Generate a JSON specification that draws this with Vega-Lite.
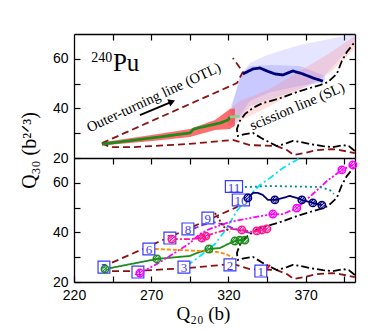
{
"$schema":"https://vega.github.io/schema/vega-lite/v6.json",
"autosize":{"type":"pad"},
"padding":{"left":19,"top":33,"right":5,"bottom":5},
"background":"white",
"spacing":0,
"bounds":"flush",
"config":{
 "view":{"stroke":null},
 "axis":{"grid":false,"domainColor":"#000","domainWidth":1.3,"tickColor":"#000","tickWidth":1.2,"tickSize":-6,"labelFont":"Liberation Sans","labelFontSize":14,"labelColor":"#000","labelPadding":12,"labelFlush":false,"labelOverlap":false,"titleFont":"Liberation Serif","titleFontWeight":"normal","titleColor":"#000","titleFontSize":20}
},
"datasets":{
 "frame":[
  {"s":"otlU","i":0,"x":238.1,"y":26.0},{"s":"otlU","i":1,"x":325.5,"y":50.2},{"s":"otlU","i":2,"x":329.4,"y":54.7},{"s":"otlU","i":3,"x":322.9,"y":60.3},
  {"s":"otlL","i":0,"x":238.1,"y":26.0},{"s":"otlL","i":1,"x":243.3,"y":24.4},{"s":"otlL","i":2,"x":258.2,"y":24.4},{"s":"otlL","i":3,"x":293.1,"y":25.6},{"s":"otlL","i":4,"x":322.9,"y":27.3},{"s":"otlL","i":5,"x":333.9,"y":25.2},{"s":"otlL","i":6,"x":351.4,"y":24.8},{"s":"otlL","i":7,"x":357.9,"y":23.2},{"s":"otlL","i":8,"x":362.4,"y":21.2},{"s":"otlL","i":9,"x":369.5,"y":22.0},{"s":"otlL","i":10,"x":377.3,"y":23.2},{"s":"otlL","i":11,"x":387.0,"y":23.6},{"s":"otlL","i":12,"x":392.2,"y":23.2},{"s":"otlL","i":13,"x":401.9,"y":22.0},
  {"s":"sl","i":0,"x":401.9,"y":22.8},{"s":"sl","i":1,"x":398.0,"y":24.8},{"s":"sl","i":2,"x":394.1,"y":25.2},{"s":"sl","i":3,"x":387.6,"y":24.4},{"s":"sl","i":4,"x":381.2,"y":24.8},{"s":"sl","i":5,"x":372.7,"y":25.6},{"s":"sl","i":6,"x":366.3,"y":26.5},{"s":"sl","i":7,"x":361.7,"y":26.9},{"s":"sl","i":8,"x":357.9,"y":26.0},{"s":"sl","i":9,"x":351.4,"y":24.8},{"s":"sl","i":10,"x":342.3,"y":27.7},{"s":"sl","i":11,"x":335.9,"y":30.1},{"s":"sl","i":12,"x":330.0,"y":29.5},{"s":"sl","i":13,"x":326.1,"y":28.9},{"s":"sl","i":14,"x":325.5,"y":31.7},{"s":"sl","i":15,"x":327.4,"y":34.9},{"s":"sl","i":16,"x":330.7,"y":37.7},{"s":"sl","i":17,"x":335.9,"y":40.2},{"s":"sl","i":18,"x":342.3,"y":42.2},{"s":"sl","i":19,"x":352.0,"y":43.8},{"s":"sl","i":20,"x":366.3,"y":47.0},{"s":"sl","i":21,"x":379.2,"y":49.4},{"s":"sl","i":22,"x":384.4,"y":50.6},{"s":"sl","i":23,"x":390.2,"y":53.9},{"s":"sl","i":24,"x":393.5,"y":59.1},{"s":"sl","i":25,"x":396.7,"y":62.7},{"s":"sl","i":26,"x":401.9,"y":66.8}
 ],
 "topl":[
  {"s":"green","i":0,"x":238.1,"y":25.6},{"s":"green","i":1,"x":269.2,"y":28.0},{"s":"green","i":2,"x":295.1,"y":30.1},{"s":"green","i":3,"x":297.6,"y":31.7},{"s":"green","i":4,"x":314.5,"y":34.1},{"s":"green","i":5,"x":319.7,"y":35.3},{"s":"green","i":6,"x":321.0,"y":36.5},
  {"s":"greenP","i":0,"x":321.0,"y":36.5},{"s":"greenP","i":1,"x":327.4,"y":36.9},
  {"s":"navy","i":0,"x":329.4,"y":53.9},{"s":"navy","i":1,"x":335.9,"y":55.9},{"s":"navy","i":2,"x":340.4,"y":56.3},{"s":"navy","i":3,"x":344.9,"y":55.1},{"s":"navy","i":4,"x":350.1,"y":53.9},{"s":"navy","i":5,"x":355.3,"y":53.5},{"s":"navy","i":6,"x":361.7,"y":55.1},{"s":"navy","i":7,"x":368.2,"y":53.9},{"s":"navy","i":8,"x":374.7,"y":52.3},{"s":"navy","i":9,"x":381.2,"y":51.0}
 ],
 "bBL":[{"x":319.7,"y":38.1,"y2":32.9},{"x":324.2,"y":45.0,"y2":32.9},{"x":328.7,"y":54.3,"y2":36.9},{"x":333.9,"y":58.3,"y2":41.0},{"x":343.6,"y":61.1,"y2":43.0},{"x":353.3,"y":63.1,"y2":45.0},{"x":366.3,"y":65.6,"y2":47.8},{"x":379.2,"y":67.2,"y2":51.0},{"x":392.2,"y":68.8,"y2":60.0},{"x":401.9,"y":70.0,"y2":67.0}],
 "bBI":[{"x":322.3,"y":41.0,"y2":34.1},{"x":327.4,"y":53.1,"y2":37.0},{"x":333.9,"y":57.1,"y2":43.0},{"x":346.9,"y":57.5,"y2":46.5},{"x":366.3,"y":57.1,"y2":49.0},{"x":382.5,"y":53.1,"y2":50.5}],
 "bRP":[{"x":321.0,"y":39.8,"y2":33.0},{"x":327.4,"y":43.0,"y2":34.9},{"x":346.9,"y":47.8,"y2":41.0},{"x":366.3,"y":55.1,"y2":47.5},{"x":385.7,"y":62.3,"y2":54.3},{"x":401.9,"y":69.2,"y2":64.0}],
 "bR":[{"x":238.1,"y":26.4,"y2":25.0},{"x":269.2,"y":29.2,"y2":26.8},{"x":295.1,"y":31.7,"y2":28.5},{"x":311.3,"y":35.3,"y2":31.3},{"x":321.0,"y":39.8,"y2":31.7},{"x":324.2,"y":40.0,"y2":33.0}],
 "botl":[
  {"s":"green","i":0,"x":240.1,"y":25.2},{"s":"green","i":1,"x":273.7,"y":29.3},{"s":"green","i":2,"x":295.1,"y":30.5},{"s":"green","i":3,"x":299.6,"y":31.7},{"s":"green","i":4,"x":307.4,"y":33.3},{"s":"green","i":5,"x":314.5,"y":33.7},{"s":"green","i":6,"x":321.0,"y":35.7},{"s":"green","i":7,"x":324.2,"y":36.5},{"s":"green","i":8,"x":327.4,"y":36.9},{"s":"green","i":9,"x":330.7,"y":36.9},
  {"s":"cyan","i":0,"x":293.1,"y":26.5},{"s":"cyan","i":1,"x":301.6,"y":30.5},{"s":"cyan","i":2,"x":311.3,"y":35.3},{"s":"cyan","i":3,"x":317.7,"y":40.6},{"s":"cyan","i":4,"x":325.5,"y":48.6},{"s":"cyan","i":5,"x":332.0,"y":53.9},{"s":"cyan","i":6,"x":340.4,"y":59.1},{"s":"cyan","i":7,"x":346.9,"y":61.9},{"s":"cyan","i":8,"x":355.3,"y":66.0},{"s":"cyan","i":9,"x":366.3,"y":70.0},
  {"s":"magenta","i":0,"x":262.7,"y":23.6},{"s":"magenta","i":1,"x":273.7,"y":27.3},{"s":"magenta","i":2,"x":282.1,"y":30.5},{"s":"magenta","i":3,"x":295.1,"y":35.7},{"s":"magenta","i":4,"x":301.6,"y":39.4},{"s":"magenta","i":5,"x":308.0,"y":41.4},{"s":"magenta","i":6,"x":321.0,"y":44.2},{"s":"magenta","i":7,"x":333.9,"y":45.8},{"s":"magenta","i":8,"x":348.8,"y":47.4},{"s":"magenta","i":9,"x":355.3,"y":47.4},{"s":"magenta","i":10,"x":364.3,"y":49.8},{"s":"magenta","i":11,"x":374.7,"y":55.5},{"s":"magenta","i":12,"x":383.8,"y":60.7},{"s":"magenta","i":13,"x":393.5,"y":65.2},{"s":"magenta","i":14,"x":400.6,"y":67.2},
  {"s":"pink","i":0,"x":283.4,"y":37.3},{"s":"pink","i":1,"x":295.1,"y":37.3},{"s":"pink","i":2,"x":302.8,"y":37.7},{"s":"pink","i":3,"x":305.4,"y":38.5},{"s":"pink","i":4,"x":311.3,"y":39.8},{"s":"pink","i":5,"x":321.0,"y":41.4},{"s":"pink","i":6,"x":328.7,"y":41.0},{"s":"pink","i":7,"x":335.2,"y":40.2},{"s":"pink","i":8,"x":338.4,"y":40.6},{"s":"pink","i":9,"x":341.7,"y":41.0},{"s":"pink","i":10,"x":344.9,"y":41.4},
  {"s":"orange","i":0,"x":272.4,"y":33.3},{"s":"orange","i":1,"x":288.6,"y":32.9},{"s":"orange","i":2,"x":301.6,"y":32.5},{"s":"orange","i":3,"x":312.6,"y":32.1},{"s":"orange","i":4,"x":318.4,"y":31.3},{"s":"orange","i":5,"x":323.0,"y":29.7},
  {"s":"purple","i":0,"x":297.0,"y":41.4},{"s":"purple","i":1,"x":303.5,"y":43.0},{"s":"purple","i":2,"x":310.0,"y":44.2},{"s":"purple","i":3,"x":317.7,"y":43.0},{"s":"purple","i":4,"x":324.2,"y":41.4},{"s":"purple","i":5,"x":333.9,"y":39.8},
  {"s":"browndot","i":0,"x":311.3,"y":47.8},{"s":"browndot","i":1,"x":313.9,"y":45.4},{"s":"browndot","i":2,"x":316.4,"y":42.6},{"s":"browndot","i":3,"x":321.0,"y":40.2},
  {"s":"navy","i":0,"x":332.6,"y":53.9},{"s":"navy","i":1,"x":335.9,"y":55.9},{"s":"navy","i":2,"x":339.1,"y":55.9},{"s":"navy","i":3,"x":342.3,"y":55.1},{"s":"navy","i":4,"x":345.6,"y":53.1},{"s":"navy","i":5,"x":350.1,"y":53.1},{"s":"navy","i":6,"x":355.3,"y":53.9},{"s":"navy","i":7,"x":359.8,"y":54.7},{"s":"navy","i":8,"x":364.3,"y":53.9},{"s":"navy","i":9,"x":367.6,"y":53.1},{"s":"navy","i":10,"x":374.7,"y":51.9},{"s":"navy","i":11,"x":380.5,"y":51.0},
  {"s":"teal","i":0,"x":330.7,"y":58.3},{"s":"teal","i":1,"x":346.9,"y":58.7},{"s":"teal","i":2,"x":379.2,"y":58.3},{"s":"teal","i":3,"x":385.7,"y":57.1},{"s":"teal","i":4,"x":388.3,"y":55.5},
  {"s":"red","i":0,"x":343.6,"y":24.0},{"s":"red","i":1,"x":346.9,"y":26.9}
 ],
 "circ":[
  {"s":"green","x":240.1,"y":25.2},{"s":"green","x":273.7,"y":29.3},{"s":"green","x":307.4,"y":33.3},{"s":"green","x":324.2,"y":36.5},{"s":"green","x":327.4,"y":36.9},{"s":"green","x":330.7,"y":36.9},
  {"s":"magenta","x":262.7,"y":23.6},{"s":"magenta","x":348.8,"y":47.4},{"s":"magenta","x":364.3,"y":49.8},{"s":"magenta","x":393.5,"y":65.2},{"s":"magenta","x":400.6,"y":67.2},
  {"s":"pink","x":283.4,"y":37.3},{"s":"pink","x":302.8,"y":37.7},{"s":"pink","x":305.4,"y":38.5},{"s":"pink","x":328.7,"y":41.0},{"s":"pink","x":338.4,"y":40.6},{"s":"pink","x":341.7,"y":41.0},{"s":"pink","x":344.9,"y":41.4},
  {"s":"navy","x":332.6,"y":53.9},{"s":"navy","x":350.1,"y":53.1},{"s":"navy","x":367.6,"y":53.1},{"s":"navy","x":374.7,"y":51.9},{"s":"navy","x":380.5,"y":51.0}
 ],
 "boxes":[
  {"t":"1","x":341.0,"y":24.4},{"t":"2","x":321.0,"y":26.9},{"t":"3","x":291.2,"y":26.0},{"t":"4","x":261.4,"y":24.0},{"t":"5","x":239.4,"y":26.0},{"t":"6","x":268.5,"y":33.3},{"t":"7","x":282.1,"y":37.7},{"t":"8","x":293.8,"y":41.4},{"t":"9","x":306.7,"y":45.8},{"t":"10","x":328.1,"y":53.1},{"t":"11","x":323.6,"y":58.5}
 ]
},
"vconcat":[
 {
  "width":281,"height":124,
  "encoding":{
   "x":{"field":"x","type":"quantitative","scale":{"domain":[220,402],"nice":false,"zero":false},"axis":null},
   "y":{"field":"y","type":"quantitative","scale":{"domain":[20,70],"nice":false,"zero":false},"axis":null}
  },
  "layer":[
   {"data":{"name":"bBL"},"mark":{"type":"area","color":"#8a8aff","opacity":0.22},"encoding":{"y2":{"field":"y2"}}},
   {"data":{"name":"bBI"},"mark":{"type":"area","color":"#6a6aff","opacity":0.22},"encoding":{"y2":{"field":"y2"}}},
   {"data":{"name":"bRP"},"mark":{"type":"area","color":"#ff8080","opacity":0.25},"encoding":{"y2":{"field":"y2"}}},
   {"data":{"name":"bR"},"mark":{"type":"area","color":"#ff3030","opacity":0.7},"encoding":{"y2":{"field":"y2"}}},
   {"data":{"name":"frame"},"mark":{"type":"line","strokeWidth":1.8},"encoding":{
     "color":{"field":"s","type":"nominal","legend":null,"scale":{"domain":["otlU","otlL","sl","green","greenP","navy","cyan","magenta","pink","orange","purple","browndot","teal","red"],"range":["#8b1212","#8b1212","#000000","#1d8c1d","#8fcf8f","#00007a","#00e5ff","#ff00ff","#ff1493","#ff8c00","#8a2be2","#8b1212","#008b8b","#ff0000"]}},
     "strokeDash":{"field":"s","type":"nominal","legend":null,"scale":{"domain":["otlU","otlL","sl","green","greenP","navy","cyan","magenta","pink","orange","purple","browndot","teal","red"],"range":[[7,4],[7,4],[8,3,2,3],[1,0],[1,0],[1,0],[7,3,2,3],[6,2,2,2,2,2],[6,2,2,2],[4,2],[6,3],[2,2],[2,3],[1,0]]}},
     "order":{"field":"i"}}},
   {"data":{"name":"topl"},"mark":{"type":"line","strokeWidth":2.8},"encoding":{
     "color":{"field":"s","type":"nominal","legend":null,"scale":{"domain":["otlU","otlL","sl","green","greenP","navy","cyan","magenta","pink","orange","purple","browndot","teal","red"],"range":["#8b1212","#8b1212","#000000","#1d8c1d","#8fcf8f","#00007a","#00e5ff","#ff00ff","#ff1493","#ff8c00","#8a2be2","#8b1212","#008b8b","#ff0000"]}},
     "strokeDash":{"field":"s","type":"nominal","legend":null,"scale":{"domain":["otlU","otlL","sl","green","greenP","navy","cyan","magenta","pink","orange","purple","browndot","teal","red"],"range":[[7,4],[7,4],[8,3,2,3],[1,0],[1,0],[1,0],[7,3,2,3],[6,2,2,2,2,2],[6,2,2,2],[4,2],[6,3],[2,2],[2,3],[1,0]]}},
     "order":{"field":"i"}}},
   {"data":{"values":[{"x":262.7,"y":37.3,"x2":282.8,"y2":42.5}]},"mark":{"type":"rule","strokeWidth":2,"color":"#000"},"encoding":{"x2":{"field":"x2"},"y2":{"field":"y2"}}},
   {"data":{"values":[{"x":283.4,"y":42.7}]},"mark":{"type":"point","shape":"triangle-right","filled":true,"color":"#000","opacity":1,"size":60,"angle":-22}},
   {"data":{"values":[{"x":245.2,"y":55.1,"t":"Pu"}]},"mark":{"type":"text","font":"Liberation Serif","fontSize":25,"align":"left","baseline":"alphabetic","color":"#000"},"encoding":{"text":{"field":"t"}}},
   {"data":{"values":[{"x":244.8,"y":58.7,"t":"240"}]},"mark":{"type":"text","font":"Liberation Serif","fontSize":14,"align":"right","baseline":"alphabetic","color":"#000"},"encoding":{"text":{"field":"t"}}},
   {"data":{"values":[{"x":271.8,"y":44.2,"t":"Outer-turning line (OTL)"}]},"mark":{"type":"text","font":"Liberation Serif","fontSize":14.5,"align":"center","baseline":"middle","angle":-25,"color":"#000"},"encoding":{"text":{"field":"t"}}},
   {"data":{"values":[{"x":364.7,"y":40.6,"t":"scission line (SL)"}]},"mark":{"type":"text","font":"Liberation Serif","fontSize":14.5,"align":"center","baseline":"middle","angle":-23,"color":"#000"},"encoding":{"text":{"field":"t"}}},
   {"data":{"name":"frame"},"mark":{"type":"point","opacity":0},"encoding":{
     "x":{"field":"x","type":"quantitative","scale":{"domain":[220,402],"nice":false,"zero":false},"axis":null},
     "y":{"field":"y","type":"quantitative","scale":{"domain":[20,70],"nice":false,"zero":false},"axis":{"orient":"left","values":[20,30,40,50,60],"labelExpr":"datum.value % 20 == 0 ? datum.label : ''","title":"Q₃₀ (b²ᐟ³)","titleX":-45,"titleY":116,"titleAngle":270,"titleBaseline":"middle","titleAlign":"center"}}}},
   {"data":{"name":"frame"},"mark":{"type":"point","opacity":0},"encoding":{
     "x":{"field":"x","type":"quantitative","scale":{"domain":[220,402],"nice":false,"zero":false},"axis":{"orient":"top","values":[245,270,295,320,345,370,395],"labels":false,"title":null}},
     "y":{"field":"y","type":"quantitative","scale":{"domain":[20,70],"nice":false,"zero":false},"axis":{"orient":"right","values":[30,40,50,60],"labels":false,"title":null}}}}
  ],
  "resolve":{"axis":{"x":"independent","y":"independent"}}
 },
 {
  "width":281,"height":124,
  "encoding":{
   "x":{"field":"x","type":"quantitative","scale":{"domain":[220,402],"nice":false,"zero":false},"axis":null},
   "y":{"field":"y","type":"quantitative","scale":{"domain":[20,70],"nice":false,"zero":false},"axis":null}
  },
  "layer":[
   {"data":{"name":"frame"},"mark":{"type":"line","strokeWidth":1.8},"encoding":{
     "color":{"field":"s","type":"nominal","legend":null,"scale":{"domain":["otlU","otlL","sl","green","greenP","navy","cyan","magenta","pink","orange","purple","browndot","teal","red"],"range":["#8b1212","#8b1212","#000000","#1d8c1d","#8fcf8f","#00007a","#00e5ff","#ff00ff","#ff1493","#ff8c00","#8a2be2","#8b1212","#008b8b","#ff0000"]}},
     "strokeDash":{"field":"s","type":"nominal","legend":null,"scale":{"domain":["otlU","otlL","sl","green","greenP","navy","cyan","magenta","pink","orange","purple","browndot","teal","red"],"range":[[7,4],[7,4],[8,3,2,3],[1,0],[1,0],[1,0],[7,3,2,3],[6,2,2,2,2,2],[6,2,2,2],[4,2],[6,3],[2,2],[2,3],[1,0]]}},
     "order":{"field":"i"}}},
   {"data":{"name":"botl"},"mark":{"type":"line","strokeWidth":1.8},"encoding":{
     "color":{"field":"s","type":"nominal","legend":null,"scale":{"domain":["otlU","otlL","sl","green","greenP","navy","cyan","magenta","pink","orange","purple","browndot","teal","red"],"range":["#8b1212","#8b1212","#000000","#1d8c1d","#8fcf8f","#00007a","#00e5ff","#ff00ff","#ff1493","#ff8c00","#8a2be2","#8b1212","#008b8b","#ff0000"]}},
     "strokeDash":{"field":"s","type":"nominal","legend":null,"scale":{"domain":["otlU","otlL","sl","green","greenP","navy","cyan","magenta","pink","orange","purple","browndot","teal","red"],"range":[[7,4],[7,4],[8,3,2,3],[1,0],[1,0],[1,0],[7,3,2,3],[6,2,2,2,2,2],[6,2,2,2],[4,2],[6,3],[2,2],[2,3],[1,0]]}},
     "order":{"field":"i"}}},
   {"data":{"name":"boxes"},"mark":{"type":"point","filled":false,"fill":"#fff","fillOpacity":1,"stroke":"#3a3aff","strokeWidth":1.2,"opacity":1,"size":140},"encoding":{"shape":{"condition":{"test":"length(datum.t) > 1","value":"M-1.45,-1L1.45,-1L1.45,1L-1.45,1Z"},"value":"square"}}},
   {"data":{"name":"boxes"},"mark":{"type":"text","font":"Liberation Serif","fontSize":13,"color":"#3a3aff","align":"center","baseline":"middle","dy":1},"encoding":{"text":{"field":"t"}}},
   {"data":{"name":"circ"},"mark":{"type":"point","shape":"circle","size":55,"strokeWidth":1.5,"fillOpacity":0.25,"opacity":1},"encoding":{
     "fill":{"field":"s","type":"nominal","legend":null,"scale":{"domain":["otlU","otlL","sl","green","greenP","navy","cyan","magenta","pink","orange","purple","browndot","teal","red"],"range":["#8b1212","#8b1212","#000000","#1d8c1d","#8fcf8f","#00007a","#00e5ff","#ff00ff","#ff1493","#ff8c00","#8a2be2","#8b1212","#008b8b","#ff0000"]}},
     "stroke":{"field":"s","type":"nominal","legend":null,"scale":{"domain":["otlU","otlL","sl","green","greenP","navy","cyan","magenta","pink","orange","purple","browndot","teal","red"],"range":["#8b1212","#8b1212","#000000","#1d8c1d","#8fcf8f","#00007a","#00e5ff","#ff00ff","#ff1493","#ff8c00","#8a2be2","#8b1212","#008b8b","#ff0000"]}}}},
   {"data":{"name":"circ"},"mark":{"type":"point","shape":"M-0.6,0.6L0.6,-0.6M-0.85,0.1L0.1,-0.85M-0.1,0.85L0.85,-0.1","size":55,"strokeWidth":1,"filled":false,"opacity":1},"encoding":{
     "stroke":{"field":"s","type":"nominal","legend":null,"scale":{"domain":["otlU","otlL","sl","green","greenP","navy","cyan","magenta","pink","orange","purple","browndot","teal","red"],"range":["#8b1212","#8b1212","#000000","#1d8c1d","#8fcf8f","#00007a","#00e5ff","#ff00ff","#ff1493","#ff8c00","#8a2be2","#8b1212","#008b8b","#ff0000"]}}}},
   {"data":{"name":"frame"},"mark":{"type":"point","opacity":0},"encoding":{
     "x":{"field":"x","type":"quantitative","scale":{"domain":[220,402],"nice":false,"zero":false},"axis":{"orient":"bottom","values":[220,245,270,295,320,345,370,395],"labelExpr":"datum.value % 50 == 20 ? datum.label : ''","title":"Q₂₀ (b)","titleFontSize":19,"titleX":129,"titleY":37,"titleBaseline":"alphabetic","titleAlign":"center"}},
     "y":{"field":"y","type":"quantitative","scale":{"domain":[20,70],"nice":false,"zero":false},"axis":{"orient":"left","values":[20,30,40,50,60],"labelExpr":"datum.value % 20 == 0 ? datum.label : ''","title":null}}}},
   {"data":{"name":"frame"},"mark":{"type":"point","opacity":0},"encoding":{
     "x":{"field":"x","type":"quantitative","scale":{"domain":[220,402],"nice":false,"zero":false},"axis":{"orient":"top","values":[245,270,295,320,345,370,395],"labels":false,"title":null}},
     "y":{"field":"y","type":"quantitative","scale":{"domain":[20,70],"nice":false,"zero":false},"axis":{"orient":"right","values":[30,40,50,60],"labels":false,"title":null}}}}
  ],
  "resolve":{"axis":{"x":"independent","y":"independent"}}
 }
]
}
